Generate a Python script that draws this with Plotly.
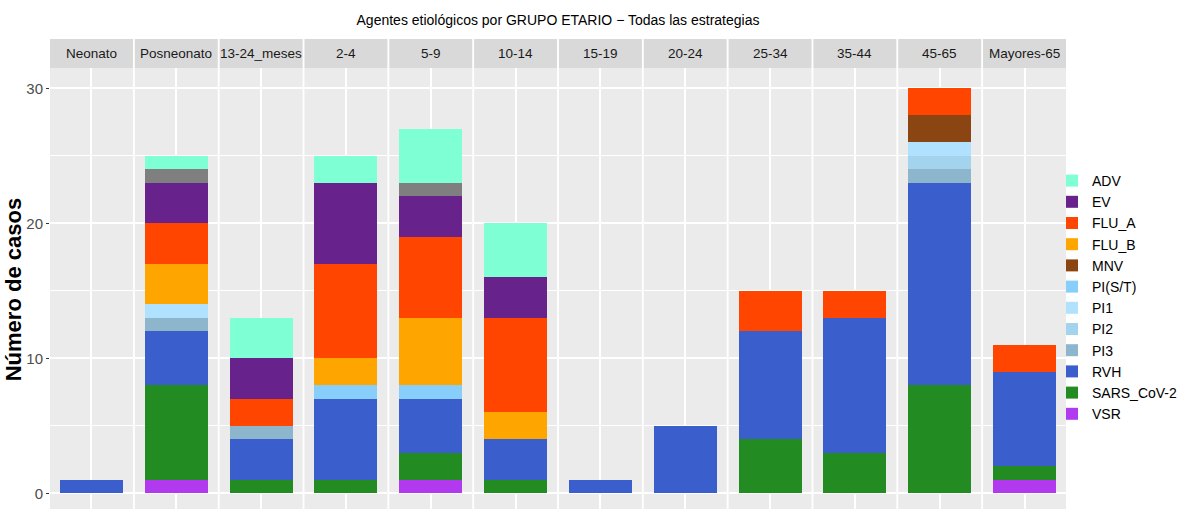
import plotly.graph_objects as go

# ---------------- data ----------------
age_groups = ["Neonato", "Posneonato", "13-24_meses", "2-4", "5-9", "10-14",
              "15-19", "20-24", "25-34", "35-44", "45-65", "Mayores-65"]

# stacked from bottom (VSR) to top (ADV); the grey block is an unlabelled agent
vsr       = [0, 1, 0, 0, 1, 0, 0, 0, 0, 0, 0, 1]
sars_cov2 = [0, 7, 1, 1, 2, 1, 0, 0, 4, 3, 8, 1]
rvh       = [1, 4, 3, 6, 4, 3, 1, 5, 8, 10, 15, 7]
pi3       = [0, 1, 1, 0, 0, 0, 0, 0, 0, 0, 1, 0]
pi2       = [0, 0, 0, 0, 0, 0, 0, 0, 0, 0, 1, 0]
pi1       = [0, 1, 0, 0, 0, 0, 0, 0, 0, 0, 1, 0]
pi_st     = [0, 0, 0, 1, 1, 0, 0, 0, 0, 0, 0, 0]
mnv       = [0, 0, 0, 0, 0, 0, 0, 0, 0, 0, 2, 0]
flu_b     = [0, 3, 0, 2, 5, 2, 0, 0, 0, 0, 0, 0]
flu_a     = [0, 3, 2, 7, 6, 7, 0, 0, 3, 2, 2, 2]
ev        = [0, 3, 3, 6, 3, 3, 0, 0, 0, 0, 0, 0]
sin_dato  = [0, 1, 0, 0, 1, 0, 0, 0, 0, 0, 0, 0]
adv       = [0, 1, 3, 2, 4, 4, 0, 0, 0, 0, 0, 0]

agent_names = ["VSR", "SARS_CoV-2", "RVH", "PI3", "PI2", "PI1", "PI(S/T)",
               "MNV", "FLU_B", "FLU_A", "EV", "NA", "ADV"]
agent_values = [vsr, sars_cov2, rvh, pi3, pi2, pi1, pi_st,
                mnv, flu_b, flu_a, ev, sin_dato, adv]
agent_colors = ["#B23AEE", "#228B22", "#3A5FCD", "#8DB6CD", "#A4D3EE", "#B0E2FF",
                "#87CEFA", "#8B4513", "#FFA500", "#FF4500", "#68228B", "#7F7F7F",
                "#7FFFD4"]
y_ticks = [0, 10, 20, 30]

title_text = "Agentes etiológicos por GRUPO ETARIO − Todas las estrategias"
y_title = "Número de casos"

# ---------------- geometry ----------------
W, H = 1183, 509
ML, MR, MT, MB = 50, 109, 68, 0
plot_w = W - ML - MR
plot_h = H - MT - MB
n = len(age_groups)
panel_w = 83.6
gap = (plot_w - n * panel_w) / (n - 1)

FONT = "Liberation Sans, Arial, sans-serif"

fig = go.Figure()

domains = []
for i in range(n):
    s = i * (panel_w + gap) / plot_w
    e = s + panel_w / plot_w
    domains.append((s, min(e, 1.0)))

for a_name, vals, col in zip(agent_names, agent_values, agent_colors):
    for i, g in enumerate(age_groups):
        ax = "" if i == 0 else str(i + 1)
        fig.add_trace(go.Bar(
            x=[g], y=[vals[i]], name=a_name,
            marker=dict(color=col, line=dict(width=0)),
            width=0.9,
            xaxis="x" + ax, yaxis="y" + ax,
            legendgroup=a_name,
            showlegend=(i == 0 and a_name != "NA"),
        ))

y_range = [-(H - MB - 493.3) / 13.5, (493.3 - MT) / 13.5]

layout = dict(
    width=W, height=H,
    margin=dict(l=ML, r=MR, t=MT, b=MB, pad=0),
    paper_bgcolor="white",
    plot_bgcolor="#EBEBEB",
    barmode="stack",
    bargap=0,
    showlegend=True,
    legend=dict(
        x=(1060 - ML) / plot_w, xanchor="left",
        y=(H - 165) / plot_h, yanchor="top",
        font=dict(family=FONT, size=14, color="#000000"),
        itemwidth=30,
        tracegroupgap=0,
        traceorder="reversed",
        bgcolor="rgba(0,0,0,0)",
    ),
    title=dict(
        text=title_text, x=0.5, xref="paper", xanchor="center",
        y=1 - 20 / H, yref="container", yanchor="middle",
        font=dict(family=FONT, size=14, color="#000000"),
    ),
)

for i in range(n):
    ax = "" if i == 0 else str(i + 1)
    layout["xaxis" + ax] = dict(
        domain=list(domains[i]), anchor="y" + ax,
        type="category", range=[-0.6, 0.6],
        showgrid=True, gridcolor="white", gridwidth=2,
        showticklabels=False, ticks="", zeroline=False, showline=False,
        fixedrange=True,
    )
    layout["yaxis" + ax] = dict(
        domain=[0, 1], anchor="x" + ax,
        range=y_range,
        tickvals=y_ticks,
        showgrid=True, gridcolor="white", gridwidth=2,
        minor=dict(dtick=5, tick0=0, showgrid=True, gridcolor="white", gridwidth=1),
        zeroline=False, showline=False,
        showticklabels=(i == 0),
        ticks="outside" if i == 0 else "", ticklen=3, tickwidth=1, tickcolor="#333333",
        tickfont=dict(family=FONT, size=15, color="#4D4D4D"),
        fixedrange=True,
    )

fig.update_layout(**layout)

# facet strips
strip_h = 29 / plot_h
for i, g in enumerate(age_groups):
    s, e = domains[i]
    fig.add_shape(type="rect", xref="paper", yref="paper",
                  x0=s, x1=e, y0=1, y1=1 + strip_h,
                  fillcolor="#D9D9D9", line=dict(width=0), layer="below")
    fig.add_annotation(text=g, xref="paper", yref="paper",
                       x=(s + e) / 2, y=1 + strip_h / 2,
                       xanchor="center", yanchor="middle", showarrow=False,
                       font=dict(family=FONT, size=13.5, color="#1A1A1A"))

# y-axis title
fig.add_annotation(text="<b>" + y_title + "</b>", xref="paper", yref="paper",
                   x=(13 - ML) / plot_w, y=(H - 290) / plot_h,
                   xanchor="center", yanchor="middle", textangle=-90,
                   showarrow=False,
                   font=dict(family=FONT, size=22, color="#000000"))

fig.write_html("out.html", config={"displayModeBar": False},
               post_script="document.body.style.margin='0';")
